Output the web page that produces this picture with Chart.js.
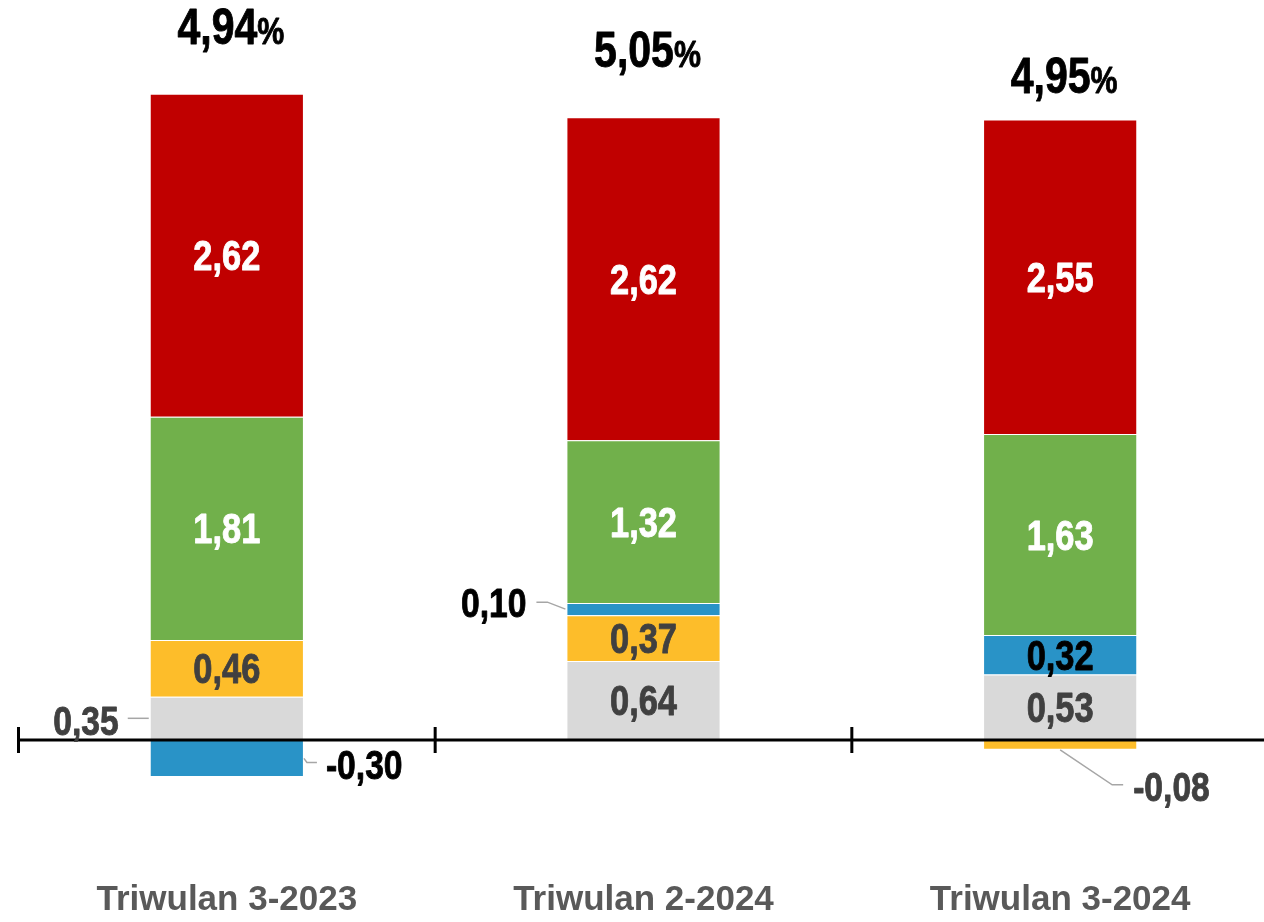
<!DOCTYPE html>
<html>
<head>
<meta charset="utf-8">
<script src="https://cdn.jsdelivr.net/npm/chart.js@4.4.1/dist/chart.umd.min.js"></script>
<style>
  html, body { margin: 0; padding: 0; background: #fff; overflow: hidden; }
  #wrap { width: 1270px; height: 922px; position: relative; }
</style>
</head>
<body>
<div id="wrap"><canvas id="grafik"></canvas></div>
<script>
const kategori = ['Triwulan 3-2023', 'Triwulan 2-2024', 'Triwulan 3-2024'];
const abuAbu = [0.35, 0.64, 0.53];
const kuning = [0.46, 0.37, -0.08];
const biru = [-0.30, 0.10, 0.32];
const hijau = [1.81, 1.32, 1.63];
const merah = [2.62, 2.62, 2.55];
const total = [4.94, 5.05, 4.95];

const FONT = "'Liberation Sans', Arial, sans-serif";
const SEMPIT = 0.82; // meniru Arial Narrow

function fmt(v) {
  return v.toFixed(2).replace('.', ',');
}

// teks dipersempit horizontal, baseline alphabetic
function tulis(ctx, teks, x, y, align, size, warna) {
  ctx.save();
  ctx.font = 'bold ' + size + 'px ' + FONT;
  ctx.translate(x, y);
  ctx.scale(SEMPIT, 1);
  ctx.textAlign = align;
  ctx.textBaseline = 'alphabetic';
  ctx.fillStyle = warna;
  ctx.strokeStyle = warna;
  ctx.lineWidth = 0.9;
  ctx.lineJoin = 'round';
  ctx.fillText(teks, 0, 0);
  ctx.strokeText(teks, 0, 0);
  ctx.restore();
}

function garis(ctx, titik) {
  ctx.save();
  ctx.strokeStyle = '#a6a6a6';
  ctx.lineWidth = 1.5;
  ctx.beginPath();
  ctx.moveTo(titik[0][0], titik[0][1]);
  for (let k = 1; k < titik.length; k++) ctx.lineTo(titik[k][0], titik[k][1]);
  ctx.stroke();
  ctx.restore();
}

// warna teks tiap seri (urutan dataset)
const warnaTeks = ['#404040', '#404040', '#000000', '#ffffff', '#ffffff'];

// label yang ditaruh di luar batang: "dataset-index"
const labelLuar = {
  '0-0': 'kiri',
  '2-0': 'kanan',
  '2-1': 'kiriAtas',
  '1-2': 'bawah'
};

// jarak baseline total ke puncak batang
const jarakTotal = [50, 50, 27];

const pluginLabel = {
  id: 'pluginLabel',
  afterDatasetsDraw(chart) {
    const ctx = chart.ctx;
    const ys = chart.scales.y;
    const area = chart.chartArea;
    const y0 = ys.getPixelForValue(0);

    // garis sumbu nol + tanda batas kategori
    ctx.save();
    ctx.strokeStyle = '#000';
    ctx.lineWidth = 3;
    ctx.beginPath();
    ctx.moveTo(area.left, y0);
    ctx.lineTo(area.right, y0);
    const lebarKat = (area.right - area.left) / kategori.length;
    for (let i = 0; i <= kategori.length; i++) {
      const x = area.left + i * lebarKat;
      ctx.moveTo(x, y0 - 13);
      ctx.lineTo(x, y0 + 13);
    }
    ctx.stroke();
    ctx.restore();

    chart.data.datasets.forEach((ds, di) => {
      const meta = chart.getDatasetMeta(di);
      meta.data.forEach((el, i) => {
        const teks = fmt(ds.data[i]);
        const top = Math.min(el.y, el.base);
        const bot = Math.max(el.y, el.base);
        const cy = (top + bot) / 2;
        const kiri = el.x - el.width / 2;
        const kanan = el.x + el.width / 2;
        const pos = labelLuar[di + '-' + i];
        if (!pos) {
          tulis(ctx, teks, el.x, cy + 15, 'center', 42, warnaTeks[di]);
        } else if (pos === 'kiri') {
          garis(ctx, [[kiri - 22, cy], [kiri - 1, cy]]);
          tulis(ctx, teks, kiri - 31, cy + 17, 'right', 41, '#404040');
        } else if (pos === 'kanan') {
          garis(ctx, [[kanan, cy], [kanan + 3, cy + 4], [kanan + 13, cy + 4]]);
          tulis(ctx, teks, kanan + 22, cy + 21, 'left', 41, '#000');
        } else if (pos === 'kiriAtas') {
          garis(ctx, [[kiri - 30, cy - 7], [kiri - 19, cy - 7], [kiri - 1, cy]]);
          tulis(ctx, teks, kiri - 40, cy + 8, 'right', 41, '#000');
        } else if (pos === 'bawah') {
          garis(ctx, [[el.x, bot], [el.x + 52, bot + 35], [el.x + 63, bot + 35]]);
          tulis(ctx, teks, el.x + 73, bot + 51, 'left', 41, '#404040');
        }
      });
    });

    // total di atas batang
    const metaAtas = chart.getDatasetMeta(chart.data.datasets.length - 1);
    metaAtas.data.forEach((el, i) => {
      const angka = fmt(total[i]);
      ctx.save();
      ctx.font = 'bold 50px ' + FONT;
      const w1 = ctx.measureText(angka).width * SEMPIT;
      ctx.font = 'bold 37px ' + FONT;
      const w2 = ctx.measureText('%').width * SEMPIT;
      ctx.restore();
      const x0 = el.x + 4 - (w1 + w2) / 2;
      const yb = el.y - jarakTotal[i];
      tulis(ctx, angka, x0, yb, 'left', 50, '#000');
      tulis(ctx, '%', x0 + w1, yb, 'left', 37, '#000');
    });
  }
};

const garisPutih = 'rgba(255,255,255,0.55)';

new Chart(document.getElementById('grafik'), {
  type: 'bar',
  data: {
    labels: kategori,
    datasets: [
      { data: abuAbu, backgroundColor: '#d9d9d9' },
      { data: kuning, backgroundColor: '#fdbd2a' },
      { data: biru, backgroundColor: '#2993c7' },
      { data: hijau, backgroundColor: '#71b04b' },
      { data: merah, backgroundColor: '#c00000' }
    ].map(d => Object.assign(d, {
      borderColor: garisPutih,
      borderWidth: 1,
      barPercentage: 0.37,
      categoryPercentage: 1
    }))
  },
  options: {
    responsive: true,
    maintainAspectRatio: false,
    animation: false,
    layout: { padding: { left: 18.5, right: 1.5, top: 0, bottom: 0 } },
    plugins: {
      legend: { display: false },
      tooltip: { enabled: false },
      title: { display: false }
    },
    scales: {
      x: {
        stacked: true,
        grid: { display: false, drawTicks: false },
        border: { display: false },
        ticks: {
          color: '#595959',
          padding: 1,
          font: { family: FONT, size: 35, weight: 'bold' }
        }
      },
      y: {
        stacked: true,
        display: false,
        min: -1.12,
        max: 6
      }
    }
  },
  plugins: [pluginLabel]
});
</script>
</body>
</html>
